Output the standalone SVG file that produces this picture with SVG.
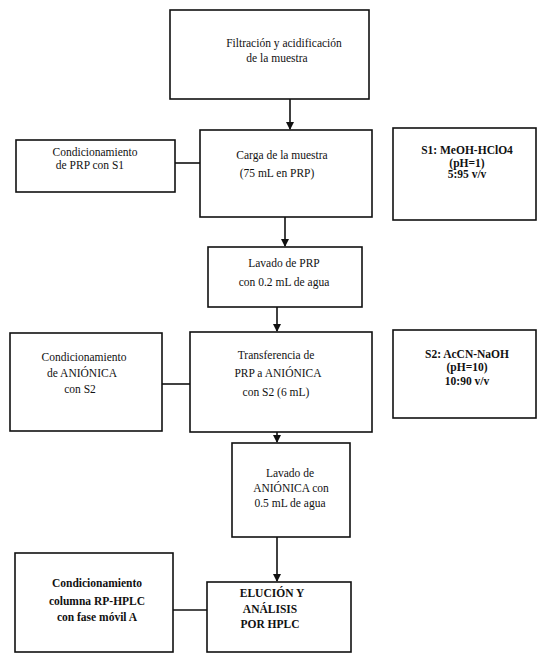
<svg xmlns="http://www.w3.org/2000/svg" width="539" height="654" viewBox="0 0 539 654">
<style>
.box{fill:#fff;stroke:#111;stroke-width:1.6}
.t{font-family:"Liberation Serif","Times New Roman",serif;font-size:11.5px;fill:#111;text-anchor:middle}
.b{font-weight:bold}
.ln{stroke:#111;stroke-width:1.6;fill:none}
</style>
<defs>
<marker id="ah" markerWidth="8" markerHeight="10" refX="7" refY="4" orient="auto" markerUnits="userSpaceOnUse" viewBox="0 0 8 8">
<path d="M0,0 L8,4 L0,8 Z" fill="#111"/>
</marker>
</defs>
<rect width="539" height="654" fill="#fff"/>
<g id="connectors">
<line class="ln" x1="290" y1="99" x2="290" y2="129" marker-end="url(#ah)"/>
<line class="ln" x1="175" y1="163" x2="200" y2="163"/>
<line class="ln" x1="285" y1="217" x2="285" y2="246" marker-end="url(#ah)"/>
<line class="ln" x1="277" y1="307" x2="277" y2="331" marker-end="url(#ah)"/>
<line class="ln" x1="162" y1="384" x2="190" y2="384"/>
<line class="ln" x1="277" y1="432" x2="277" y2="442" marker-end="url(#ah)"/>
<line class="ln" x1="277" y1="537" x2="277" y2="581" marker-end="url(#ah)"/>
<line class="ln" x1="173" y1="610" x2="207" y2="610"/>
</g>
<g id="filtracion">
<rect class="box" x="170" y="10" width="199" height="89"/>
<text class="t" x="284" y="47">Filtración y acidificación</text>
<text class="t" x="277" y="62">de la muestra</text>
</g>
<g id="carga">
<rect class="box" x="200" y="130" width="172" height="87"/>
<text class="t" x="282" y="159">Carga de la muestra</text>
<text class="t" x="277" y="177">(75 mL en PRP)</text>
</g>
<g id="cond-s1">
<rect class="box" x="16" y="140" width="159" height="52"/>
<text class="t" x="95" y="156">Condicionamiento</text>
<text class="t" x="90" y="169">de PRP con  S1</text>
</g>
<g id="s1">
<rect class="box" x="393" y="128" width="143" height="92"/>
<text class="t b" x="467" y="154">S1: MeOH-HClO4</text>
<text class="t b" x="467" y="167">(pH=1)</text>
<text class="t b" x="467" y="178">5:95 v/v</text>
</g>
<g id="lavado-prp">
<rect class="box" x="208" y="247" width="154" height="60"/>
<text class="t" x="284" y="267">Lavado de PRP</text>
<text class="t" x="284" y="286">con 0.2 mL de agua</text>
</g>
<g id="transferencia">
<rect class="box" x="190" y="332" width="182" height="100"/>
<text class="t" x="276" y="359">Transferencia de</text>
<text class="t" x="278" y="377">PRP a ANIÓNICA</text>
<text class="t" x="276" y="396">con S2 (6 mL)</text>
</g>
<g id="cond-anionica">
<rect class="box" x="10" y="333" width="152" height="98"/>
<text class="t" x="84" y="361">Condicionamiento</text>
<text class="t" x="82" y="377">de ANIÓNICA</text>
<text class="t" x="80" y="393">con S2</text>
</g>
<g id="s2">
<rect class="box" x="393" y="330" width="143" height="88"/>
<text class="t b" x="467" y="358">S2: AcCN-NaOH</text>
<text class="t b" x="467" y="371">(pH=10)</text>
<text class="t b" x="467" y="385">10:90  v/v</text>
</g>
<g id="lavado-anionica">
<rect class="box" x="232" y="443" width="118" height="94"/>
<text class="t" x="290" y="477">Lavado de</text>
<text class="t" x="291" y="492">ANIÓNICA con</text>
<text class="t" x="290" y="507">0.5 mL de agua</text>
</g>
<g id="cond-columna">
<rect class="box" x="15" y="553" width="158" height="99"/>
<text class="t b" x="97" y="587">Condicionamiento</text>
<text class="t b" x="97" y="605">columna RP-HPLC</text>
<text class="t b" x="97" y="621">con fase móvil A</text>
</g>
<g id="elucion">
<rect class="box" x="207" y="582" width="144" height="70"/>
<text class="t b" x="272" y="597">ELUCIÓN Y</text>
<text class="t b" x="270" y="613">ANÁLISIS</text>
<text class="t b" x="270" y="628">POR HPLC</text>
</g>
</svg>
